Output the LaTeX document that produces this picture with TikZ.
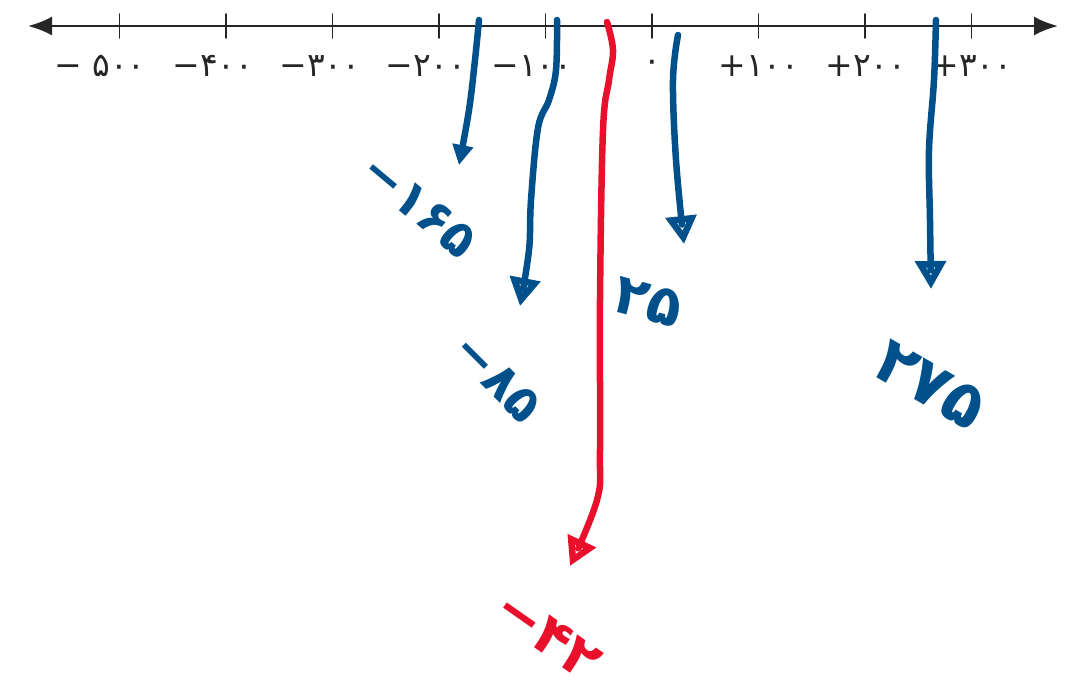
\documentclass[tikz,border=0pt]{standalone}
\usepackage{fontspec}
\usepackage{tikz}
\usetikzlibrary{arrows.meta}
\newfontfamily\fa{DejaVu Sans}
\definecolor{penblue}{RGB}{0,80,140}
\definecolor{penred}{RGB}{232,16,42}

\begin{document}
\begin{tikzpicture}[x=1pt, y=-1pt, line cap=round, line join=round,
    axis/.style = {line width=2.4pt, black!85},
    tick/.style = {line width=1.6pt, black!85},
    num/.style = {font=\fa\fontsize{33}{35}\selectfont, black!85, inner sep=0pt},
    hand/.style = {line width=6.5pt, penblue, -{Triangle[open, length=28pt, width=30pt]}},
    note/.style = {font=\fa\bfseries\fontsize{50}{54}\selectfont, penblue, inner sep=0pt}]

    \useasboundingbox (0,0) rectangle (1077,699);

    % number line
    \coordinate (L) at (28,26);
    \coordinate (R) at (1058,26);
    \draw [axis, {Latex[length=24pt,width=19pt]}-{Latex[length=24pt,width=19pt]}] (L) -- (R);
    \foreach \i in {-5,...,3}
        \draw [tick] (652+106.5*\i, 14) -- (652+106.5*\i, 38);

    \node [num] (m500) at (100, 66) {− ۵۰۰};
    \node [num] (m400) at (213, 66) {−۴۰۰};
    \node [num] (m300) at (320, 66) {−۳۰۰};
    \node [num] (m200) at (426, 66) {−۲۰۰};
    \node [num] (m100) at (532, 66) {−۱۰۰};
    \node [num] (z0)   at (652, 66) {۰};
    \node [num] (p100) at (759, 66) {+۱۰۰};
    \node [num] (p200) at (866, 66) {+۲۰۰};
    \node [num] (p300) at (972, 66) {+۳۰۰};

    % hand marks
    \coordinate (a1) at (479,20);  \coordinate (b1) at (459,165);
    \coordinate (a2) at (557,20);  \coordinate (b2) at (520,306);
    \coordinate (a3) at (678,35);  \coordinate (b3) at (684,244);
    \coordinate (a4) at (936,20);  \coordinate (b4) at (931,289);
    \coordinate (a5) at (607,22);  \coordinate (b5) at (570,566);

    \draw [hand, -{Triangle[open, length=20pt, width=20pt]}] plot [smooth, tension=0.6] coordinates {(a1) (475,60) (469,110) (b1)};
    \draw [hand] plot [smooth, tension=0.6] coordinates {(a2) (556,70) (549,100) (538,128) (531,200) (529,250) (b2)};
    \draw [hand] plot [smooth, tension=0.6] coordinates {(a3) (673,80) (676,160) (b3)};
    \draw [hand] plot [smooth, tension=0.6] coordinates {(a4) (934,80) (929,150) (930,220) (b4)};
    \draw [hand, penred] plot [smooth, tension=0.6] coordinates {(a5) (613,50) (609,80) (603,130) (600,300) (600,450) (597,500) (b5)};

    \node [note, rotate=-40] (n1) at (419,206) {−۱۶۵};
    \node [note, rotate=-45] (n2) at (497,378) {−۸۵};
    \node [note, rotate=-15, font=\fa\bfseries\fontsize{56}{60}\selectfont] (n3) at (648,302) {۲۵};
    \node [note, rotate=-30, font=\fa\bfseries\fontsize{64}{68}\selectfont] (n4) at (930,385) {۲۷۵};
    \node [note, rotate=-35, penred, font=\fa\bfseries\fontsize{56}{60}\selectfont] (n5) at (548,635) {−۴۲};

\end{tikzpicture}
\end{document}
